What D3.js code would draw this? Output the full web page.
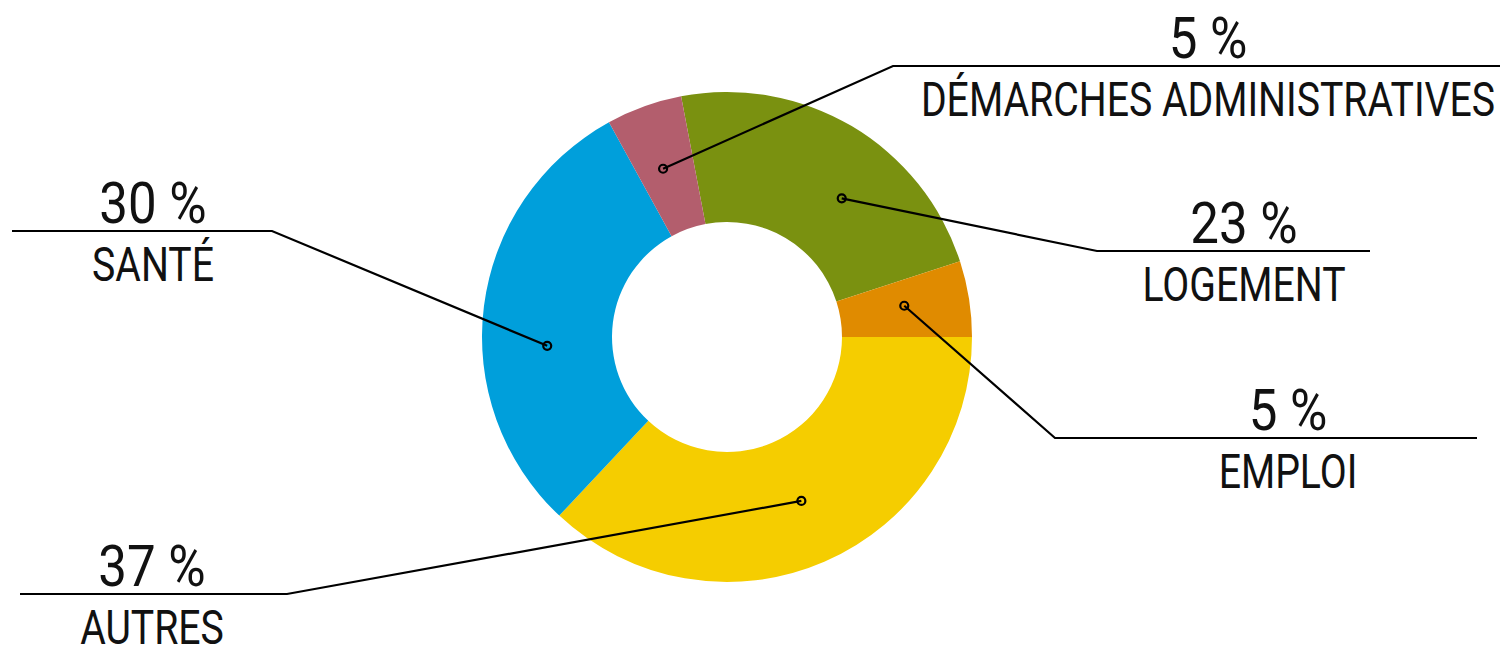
<!DOCTYPE html>
<html>
<head>
<meta charset="utf-8">
<script src="https://cdn.jsdelivr.net/npm/d3@7"></script>
<style>
  html, body { margin: 0; padding: 0; background: #fff; }
  svg { display: block; }
  text { font-family: Roboto, "DejaVu Sans", sans-serif; fill: #111; }
</style>
</head>
<body>
<svg id="chart" width="1502" height="648"></svg>
<script>
// data, clockwise from LOGEMENT
const categories = ['LOGEMENT', 'EMPLOI', 'AUTRES', 'SANTÉ', 'DÉMARCHES ADMINISTRATIVES'];
const values = [23, 5, 37, 30, 5];
const pctLabels = ['23 %', '5 %', '37 %', '30 %', '5 %'];
const colors = ['#7a9110', '#e08b00', '#f5cd00', '#009fdb', '#b35e6d'];

// label layout (elbow, end of the rule, text centre)
const labelLayout = [
    {nudge: 9, ex: 1097, ey: 251, endX: 1370, tx: 1244},
    {nudge: -1, ex: 1055, ey: 438, endX: 1477, tx: 1288},
    {nudge: -1, ex: 287, ey: 594, endX: 20, tx: 152},
    {nudge: -10, ex: 272, ey: 231, endX: 12, tx: 153},
    {nudge: -1, ex: 893, ey: 66, endX: 1500, tx: 1208}
];

const cx = 727, cy = 337;
const outerR = 245, innerR = 115;

const svg = d3.select('#chart');
const g = svg.append('g').attr('transform', `translate(${cx},${cy})`);

// AUTRES starts at 3 o'clock
const total = d3.sum(values);
const start = Math.PI / 2 - (values[0] + values[1]) / total * 2 * Math.PI;

const pie = d3.pie()
    .sort(null)
    .startAngle(start)
    .endAngle(start + 2 * Math.PI);

const arc = d3.arc().innerRadius(innerR).outerRadius(outerR);

const arcs = pie(values);

g.selectAll('path.slice')
    .data(arcs)
    .join('path')
    .attr('class', 'slice')
    .attr('d', arc)
    .attr('fill', (d, i) => colors[i]);

// leader lines
const midR = (innerR + outerR) / 2;
arcs.forEach((d, i) => {
    const L = labelLayout[i];
    const a = (d.startAngle + d.endAngle) / 2 + L.nudge * Math.PI / 180;
    const px = cx + midR * Math.sin(a);
    const py = cy - midR * Math.cos(a);

    svg.append('polyline')
        .attr('points', [[px, py], [L.ex, L.ey], [L.endX, L.ey]].map(p => p.join(',')).join(' '))
        .attr('fill', 'none')
        .attr('stroke', '#000')
        .attr('stroke-width', 2.2);

    svg.append('circle')
        .attr('cx', px)
        .attr('cy', py)
        .attr('r', 4)
        .attr('fill', 'none')
        .attr('stroke', '#000')
        .attr('stroke-width', 2.2);

    svg.append('text')
        .attr('transform', `translate(${L.tx},${L.ey - 8}) scale(0.88,1)`)
        .attr('text-anchor', 'middle')
        .attr('font-size', 58)
        .text(pctLabels[i]);

    svg.append('text')
        .attr('transform', `translate(${L.tx},${L.ey + 50}) scale(0.8,1)`)
        .attr('text-anchor', 'middle')
        .attr('font-size', 49)
        .text(categories[i]);
});
</script>
</body>
</html>
